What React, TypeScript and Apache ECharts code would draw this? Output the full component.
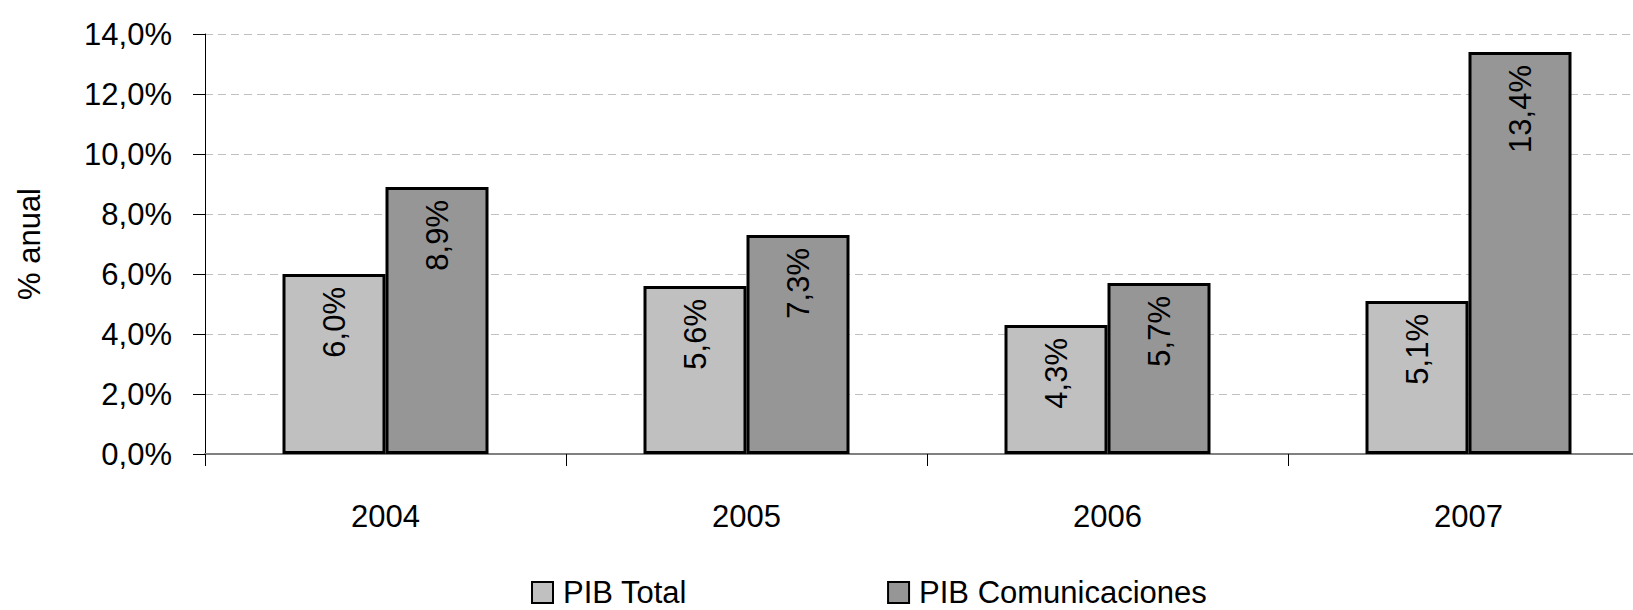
import React, { useEffect, useRef } from "react";
import * as echarts from "echarts";

const categories = ["2004", "2005", "2006", "2007"];
const pibTotal = [6.0, 5.6, 4.3, 5.1];
const pibComunicaciones = [8.9, 7.3, 5.7, 13.4];
const seriesNames = ["PIB Total", "PIB Comunicaciones"];
const yTicks = { min: 0, max: 14, interval: 2 };

const FONT = "'Liberation Sans', Arial, sans-serif";
const fmt = (v: number) => v.toFixed(1).replace(".", ",") + "%";

export default function App() {
  const ref = useRef<HTMLDivElement>(null);
  useEffect(() => {
    if (!ref.current) return;
    const chart = echarts.init(ref.current, undefined, { renderer: "svg" });
    const label = {
      show: true,
      position: "insideTop",
      rotate: 90,
      align: "right",
      verticalAlign: "middle",
      distance: 13,
      color: "#000",
      fontSize: 31,
      fontFamily: FONT,
      formatter: (p: any) => fmt(p.value),
    };
    chart.setOption({
      animation: false,
      textStyle: { fontFamily: FONT },
      grid: { left: 205, top: 34, width: 1444, bottom: 156, containLabel: false },
      legend: {
        data: seriesNames,
        left: 531,
        top: 577,
        padding: 0,
        itemWidth: 21,
        itemHeight: 21,
        itemGap: 200,
        icon: "rect",
        textStyle: { fontSize: 31, lineHeight: 28, color: "#000", fontFamily: FONT, padding: [0, 0, 0, 5] },
      },
      xAxis: {
        type: "category",
        data: categories,
        axisLine: { lineStyle: { color: "#808080", width: 2 } },
        axisTick: { show: true, length: 12, lineStyle: { color: "#000", width: 1 } },
        axisLabel: { margin: 47, fontSize: 31, color: "#000", fontFamily: FONT },
      },
      yAxis: {
        type: "value",
        min: yTicks.min,
        max: yTicks.max,
        interval: yTicks.interval,
        name: "% anual",
        nameLocation: "middle",
        nameGap: 160,
        nameTextStyle: { fontSize: 31, color: "#000", fontFamily: FONT },
        axisLine: { show: true, lineStyle: { color: "#000", width: 1 } },
        axisTick: { show: true, length: 12, lineStyle: { color: "#000", width: 1 } },
        axisLabel: { margin: 33, fontSize: 31, color: "#000", fontFamily: FONT, formatter: (v: number) => fmt(v) },
        splitLine: { show: true, lineStyle: { color: "#c0c0c0", width: 1, type: [8, 5] } },
      },
      series: [
        {
          name: seriesNames[0],
          type: "bar",
          data: pibTotal,
          barWidth: 103,
          barGap: "0%",
          itemStyle: { color: "#c0c0c0", borderColor: "#000", borderWidth: 3 },
          label,
        },
        {
          name: seriesNames[1],
          type: "bar",
          data: pibComunicaciones,
          barWidth: 103,
          barGap: "0%",
          itemStyle: { color: "#969696", borderColor: "#000", borderWidth: 3 },
          label,
        },
      ],
    });
    return () => chart.dispose();
  }, []);
  return (
    <div
      ref={ref}
      style={{ position: "fixed", left: 0, top: 0, width: 1660, height: 610, background: "#fff" }}
    />
  );
}
